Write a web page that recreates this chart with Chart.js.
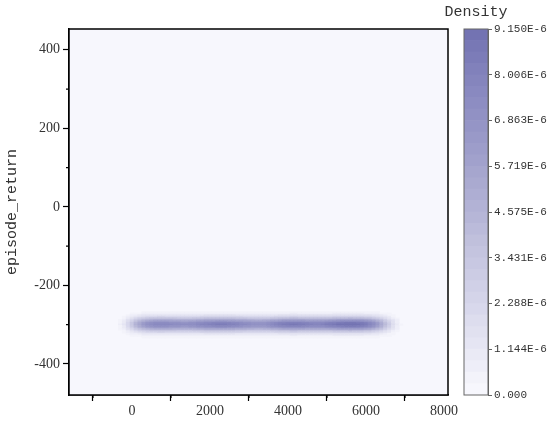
<!DOCTYPE html>
<html>
<head>
<meta charset="utf-8">
<script src="https://cdn.jsdelivr.net/npm/chart.js@4.4.0/dist/chart.umd.min.js"></script>
<style>
    body { margin: 0; background: #fff; }
    #wrap { position: relative; width: 550px; height: 425px; }
    #mainChart { position: absolute; left: 0; top: 0; }
    #barChart { position: absolute; left: 430px; top: 0; }
</style>
</head>
<body>
<div id="wrap">
    <canvas id="mainChart" width="550" height="425"></canvas>
    <canvas id="barChart" width="120" height="425"></canvas>
</div>
<script>
// density along the band (x10^-6), one value per 100 steps starting at -400
const bandStart = -400;
const bandStep = 100;
const bandDensity = [
    0.2, 0.6, 1.2, 2.2, 3.4, 4.6, 5.7, 6.5, 7.0, 7.4,
    7.6, 7.7, 7.7, 7.6, 7.5, 7.4, 7.3, 7.2, 7.2, 7.3,
    7.4, 7.6, 7.8, 8.0, 8.1, 8.2, 8.3, 8.3, 8.3, 8.2,
    8.1, 7.9, 7.7, 7.5, 7.3, 7.1, 7.0, 7.0, 7.1, 7.3,
    7.6, 7.9, 8.2, 8.4, 8.5, 8.6, 8.6, 8.5, 8.4, 8.2,
    8.1, 8.0, 8.0, 8.1, 8.3, 8.5, 8.7, 8.9, 9.0, 9.1,
    9.15, 9.1, 9.0, 8.8, 8.5, 8.0, 7.3, 6.4, 5.3, 4.1,
    2.9, 1.8, 0.9, 0.3
];
// vertical fall-off of the band around its centre line
const bandCenter = -300;
const rowOffsets = [-40, -36, -32, -28, -24, -20, -16, -12, -8, -4, 0, 4, 8, 12, 16, 20, 24, 28, 32, 36, 40];
const rowProfile = [0.008, 0.02, 0.05, 0.1, 0.18, 0.3, 0.47, 0.65, 0.83, 0.95, 1, 0.95, 0.83, 0.65, 0.47, 0.3, 0.18, 0.1, 0.05, 0.02, 0.008];

const xTicks = [0, 2000, 4000, 6000, 8000];
const xMinor = [-1000, 1000, 3000, 5000, 7000];
const yTicks = [-400, -200, 0, 200, 400];
const yMinor = [-300, -100, 100, 300];

const densityMax = 9.15;
const levelCount = 32;
const colorbarTicks = [0, 1.144, 2.288, 3.431, 4.575, 5.719, 6.863, 8.006, 9.150];
const colorbarLabels = ['0.000', '1.144E-6', '2.288E-6', '3.431E-6', '4.575E-6', '5.719E-6', '6.863E-6', '8.006E-6', '9.150E-6'];

// colour map stops
const cmap = [
    [247, 247, 253], [230, 230, 243], [213, 213, 234], [198, 198, 224], [180, 180, 214],
    [164, 164, 205], [148, 148, 198], [133, 133, 189], [115, 115, 178]
];

function levelColor(k) {
    const t = k / (levelCount - 1) * (cmap.length - 1);
    const i = Math.min(Math.floor(t), cmap.length - 2);
    const f = t - i;
    const c = cmap[i].map((v, n) => Math.round(v + (cmap[i + 1][n] - v) * f));
    return 'rgb(' + c.join(',') + ')';
}

function levelOf(d) {
    return Math.min(levelCount - 1, Math.floor(d / densityMax * levelCount));
}

const serif = 'Liberation Serif';
const mono = 'Liberation Mono';

// heatmap rows as floating bars
const xBins = bandDensity.map((_, i) => bandStart + i * bandStep);
const halfRow = 2;
const rowDatasets = rowOffsets.map((off, j) => {
    const pts = [];
    const cols = [];
    xBins.forEach((x, i) => {
        const lvl = levelOf(bandDensity[i] * rowProfile[j]);
        if (lvl < 1) return;
        pts.push({ x: x, y: [bandCenter + off - halfRow, bandCenter + off + halfRow] });
        cols.push(levelColor(lvl));
    });
    return {
        data: pts,
        backgroundColor: cols,
        borderWidth: 0,
        barPercentage: 1,
        categoryPercentage: 1,
        grouped: false
    };
});

const frame = {
    id: 'frame',
    beforeDatasetsDraw(chart) {
        const a = chart.chartArea, ctx = chart.ctx;
        ctx.save();
        ctx.fillStyle = levelColor(0);
        ctx.fillRect(a.left, a.top, a.right - a.left, a.bottom - a.top);
        ctx.restore();
    },
    afterDraw(chart) {
        const a = chart.chartArea, ctx = chart.ctx;
        const xs = chart.scales.x, ys = chart.scales.y;
        ctx.save();
        ctx.strokeStyle = '#000';
        ctx.lineWidth = 1.5;
        ctx.strokeRect(a.left, a.top, a.right - a.left, a.bottom - a.top);
        ctx.lineWidth = 1.2;
        ctx.beginPath();
        xMinor.forEach(v => {
            const px = xs.getPixelForValue(v);
            ctx.moveTo(px, a.bottom);
            ctx.lineTo(px, a.bottom + 3);
        });
        yMinor.forEach(v => {
            const py = ys.getPixelForValue(v);
            ctx.moveTo(a.left, py);
            ctx.lineTo(a.left - 3, py);
        });
        ctx.stroke();
        ctx.restore();
    }
};

new Chart(document.getElementById('mainChart'), {
    type: 'bar',
    data: { datasets: rowDatasets },
    options: {
        responsive: false,
        animation: false,
        devicePixelRatio: 1,
        layout: { padding: { top: 29, right: 102, left: 0, bottom: 0 } },
        plugins: { legend: { display: false }, tooltip: { enabled: false } },
        scales: {
            x: {
                type: 'linear',
                min: -1615,
                max: 8103,
                offset: false,
                afterFit: s => { s.height = 30; },
                afterBuildTicks: s => { s.ticks = xTicks.map(v => ({ value: v })); },
                grid: { drawOnChartArea: false, tickLength: 6, tickColor: '#000', tickWidth: 1.2 },
                border: { color: '#000', width: 1.5 },
                ticks: { color: '#333', font: { family: serif, size: 14 }, padding: 2, maxRotation: 0, callback: v => String(v) }
            },
            y: {
                type: 'linear',
                min: -479,
                max: 453,
                afterFit: s => { s.width = 69; },
                afterBuildTicks: s => { s.ticks = yTicks.map(v => ({ value: v })); },
                grid: { drawOnChartArea: false, tickLength: 6, tickColor: '#000', tickWidth: 1.2 },
                border: { color: '#000', width: 1.5 },
                ticks: { color: '#333', font: { family: serif, size: 14 }, padding: 3, callback: v => String(v) },
                title: { display: true, text: 'episode_return', color: '#333', font: { family: mono, size: 15 }, padding: { top: 3, bottom: 2 } }
            }
        }
    },
    plugins: [frame]
});

// colour bar
const levelDatasets = [];
for (let k = 0; k < levelCount; k++) {
    levelDatasets.push({
        data: [[k * densityMax / levelCount, (k + 1) * densityMax / levelCount]],
        backgroundColor: levelColor(k),
        borderWidth: 0,
        barPercentage: 1,
        categoryPercentage: 1,
        grouped: false
    });
}

const barFrame = {
    id: 'barFrame',
    afterDraw(chart) {
        const a = chart.chartArea, ctx = chart.ctx;
        ctx.save();
        ctx.strokeStyle = '#666';
        ctx.lineWidth = 1;
        ctx.strokeRect(a.left, a.top, a.right - a.left, a.bottom - a.top);
        ctx.fillStyle = '#333';
        ctx.font = '15px "' + mono + '"';
        ctx.textAlign = 'center';
        ctx.textBaseline = 'middle';
        ctx.fillText('Density', (a.left + a.right) / 2, 12);
        ctx.restore();
    }
};

new Chart(document.getElementById('barChart'), {
    type: 'bar',
    data: { labels: ['d'], datasets: levelDatasets },
    options: {
        responsive: false,
        animation: false,
        devicePixelRatio: 1,
        layout: { padding: { top: 29, left: 34, right: 0, bottom: 30 } },
        plugins: { legend: { display: false }, tooltip: { enabled: false } },
        scales: {
            x: { display: false },
            y: {
                position: 'right',
                min: 0,
                max: densityMax,
                afterFit: s => { s.width = 62; },
                afterBuildTicks: s => { s.ticks = colorbarTicks.map(v => ({ value: v })); },
                grid: { drawOnChartArea: false, tickLength: 4, tickColor: '#666', tickWidth: 1 },
                border: { color: '#666', width: 1 },
                ticks: {
                    color: '#333',
                    font: { family: mono, size: 11 },
                    padding: 2,
                    callback: (v, i) => colorbarLabels[i]
                }
            }
        }
    },
    plugins: [barFrame]
});
</script>
</body>
</html>
